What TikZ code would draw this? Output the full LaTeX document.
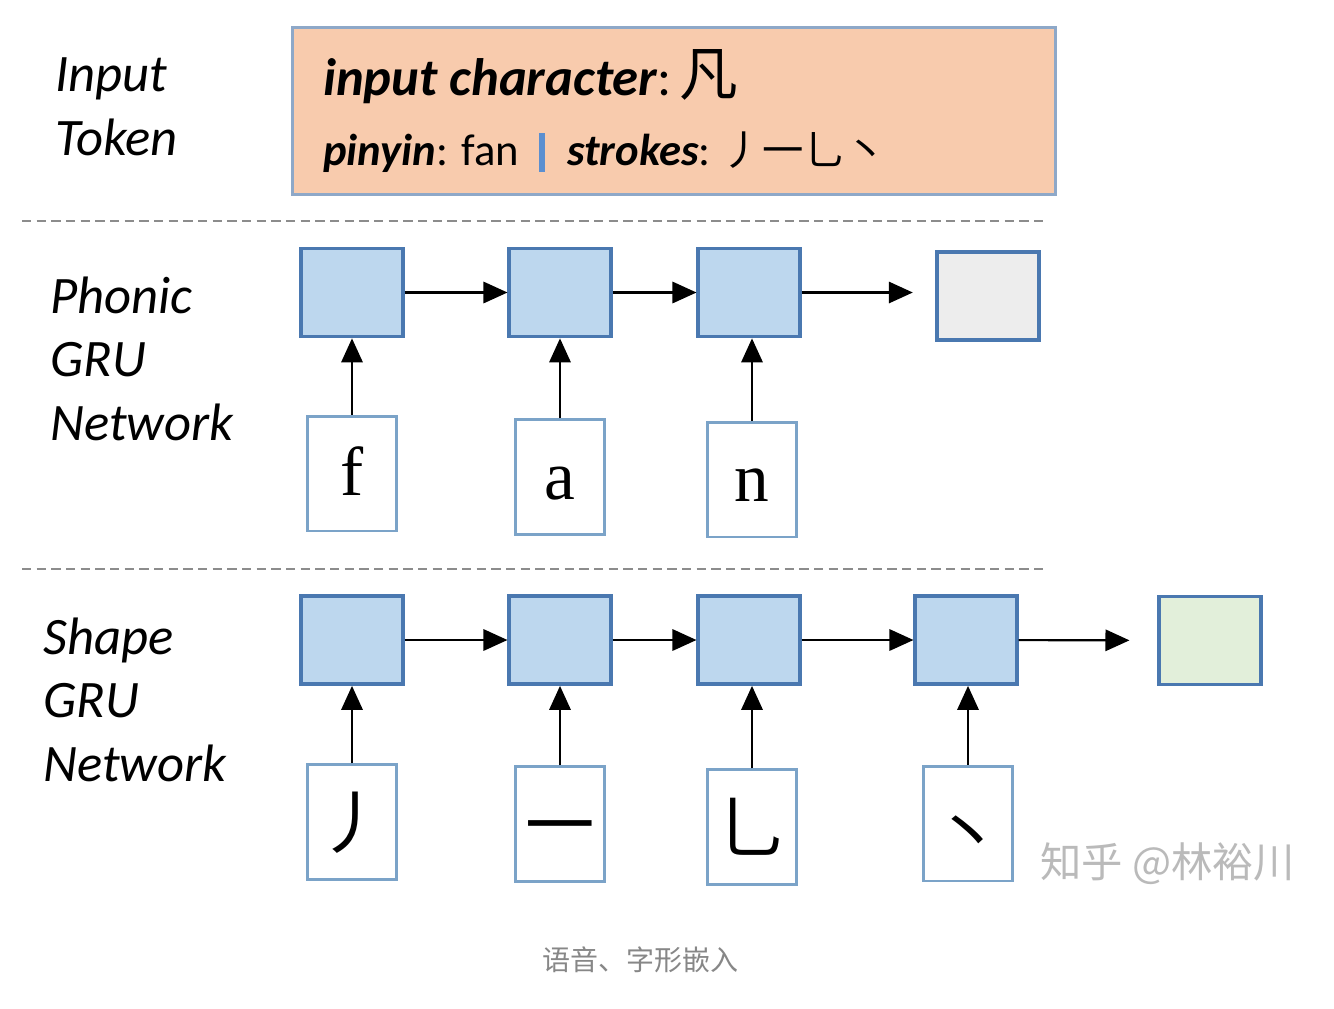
\documentclass[tikz,border=0pt]{standalone}
\usepackage{fontspec}
\setmainfont{Carlito}
\newfontfamily\cjk{Noto Sans CJK SC}
\newfontfamily\tnr{Liberation Serif}
\usetikzlibrary{arrows.meta}
\definecolor{topfill}{HTML}{F8CBAD}
\definecolor{topline}{HTML}{8EA8C8}
\definecolor{grufill}{HTML}{BDD7EE}
\definecolor{gruline}{HTML}{4A78B0}
\definecolor{grayfill}{HTML}{EDEDED}
\definecolor{greenfill}{HTML}{E2EFDA}
\definecolor{inline}{HTML}{7BA3C8}
\definecolor{barblue}{HTML}{5B8FD0}
\definecolor{sepgray}{HTML}{8C8C8C}
\begin{document}
\begin{tikzpicture}[x=0.75pt,y=-0.75pt,
  gru/.style={draw=gruline, line width=2.8pt, fill=grufill, minimum width=76pt, minimum height=66pt, inner sep=0},
  inbox/.style={draw=inline, line width=2pt, fill=white, minimum width=67pt, minimum height=86pt, inner sep=0},
  arr/.style={-{Triangle[length=18pt,width=16pt]}, line width=1.6pt},
  sepline/.style={draw=sepgray, dash pattern=on 7pt off 4pt, line width=1.3pt},
  lab/.style={anchor=base west, inner sep=0, align=left, font=\fontsize{39.5pt}{47.3pt}\selectfont\itshape},
  letter/.style={font=\tnr\fontsize{52pt}{60pt}\selectfont, text height=45pt, text depth=12pt},
  stroke/.style={font=\cjk\fontsize{52pt}{60pt}\selectfont, text height=46pt, text depth=7pt}
]
\fill[white] (0,0) rectangle (1334,1008);
\useasboundingbox (0,0) rectangle (1334,1008);

% left labels (anchored at the baseline of the last line)
\node[lab] (l1) at (55,155) {Input\\Token};
\node[lab] (l2) at (50,440) {Phonic\\GRU\\Network};
\node[lab] (l3) at (43,781) {Shape\\GRU\\Network};

% input token box
\node[draw=topline, line width=2.4pt, fill=topfill, minimum width=572pt, minimum height=125pt, inner sep=0] (token) at (674,111) {};
\node[anchor=base west, inner sep=0, font=\fontsize{39.5pt}{45pt}\selectfont] (t1) at (323,95)
  {\textbf{\textit{input character}}:\hspace{6pt}{\cjk\fontsize{44pt}{45pt}\selectfont 凡}};
\node[anchor=base west, inner sep=0, font=\fontsize{33.5pt}{40pt}\selectfont] (t2) at (323,165)
  {\textbf{\textit{pinyin}}: fan\hspace{15pt}\textcolor{barblue}{\rule[-5pt]{4pt}{29pt}}\hspace{17pt}\textbf{\textit{strokes}}:\hspace{8pt}{\cjk\fontsize{31pt}{40pt}\selectfont 丿一乚丶}};

% separators
\coordinate (s1a) at (22,221); \coordinate (s1b) at (1043,221);
\coordinate (s2a) at (22,569); \coordinate (s2b) at (1043,569);
\draw[sepline] (s1a) -- (s1b);
\draw[sepline] (s2a) -- (s2b);

% phonic GRU
\node[gru] (p1) at (352,292.5) {};
\node[gru] (p2) at (560,292.5) {};
\node[gru] (p3) at (749,292.5) {};
\node[gru, fill=grayfill] (p4) at (988,296) {};
\node[inbox, letter] (f) at (352,473.5) {f};
\node[inbox, letter] (a) at (560,477) {a};
\node[inbox, letter] (n) at (752,479.5) {n};
\draw[arr] (p1) -- (p2);
\draw[arr] (p2) -- (p3);
\draw[arr, shorten >=17pt] (p3) -- (p3 -| p4.west);
\draw[arr] (f.north) -- (f.north |- p1.south);
\draw[arr] (a.north) -- (a.north |- p2.south);
\draw[arr] (n.north) -- (n.north |- p3.south);

% shape GRU
\node[gru] (s1) at (352,640) {};
\node[gru] (s2) at (560,640) {};
\node[gru] (s3) at (749,640) {};
\node[gru] (s4) at (966,640) {};
\node[gru, fill=greenfill] (s5) at (1210,640.5) {};
\node[inbox, stroke] (k1) at (352,822) {丿};
\node[inbox, stroke] (k2) at (560,824) {一};
\node[inbox, stroke] (k3) at (752,827) {乚};
\node[inbox, stroke] (k4) at (968,823.5) {\raisebox{-7pt}{丶}};
\draw[arr] (s1) -- (s2);
\draw[arr] (s2) -- (s3);
\draw[arr] (s3) -- (s4);
\draw[arr, shorten >=21pt] (s4) -- (s5);
\draw[arr] (k1.north) -- (k1.north |- s1.south);
\draw[arr] (k2.north) -- (k2.north |- s2.south);
\draw[arr] (k3.north) -- (k3.north |- s3.south);
\draw[arr] (k4.north) -- (k4.north |- s4.south);

% watermark and caption
\node[anchor=base west, inner sep=0, text=black!27, font=\cjk\fontsize{31pt}{36pt}\selectfont] (wm) at (1040,877) {知乎 @林裕川};
\node[anchor=base, inner sep=0, text=black!47, font=\cjk\fontsize{21pt}{26pt}\selectfont] (cap) at (640,970) {语音、字形嵌入};
\end{tikzpicture}
\end{document}
